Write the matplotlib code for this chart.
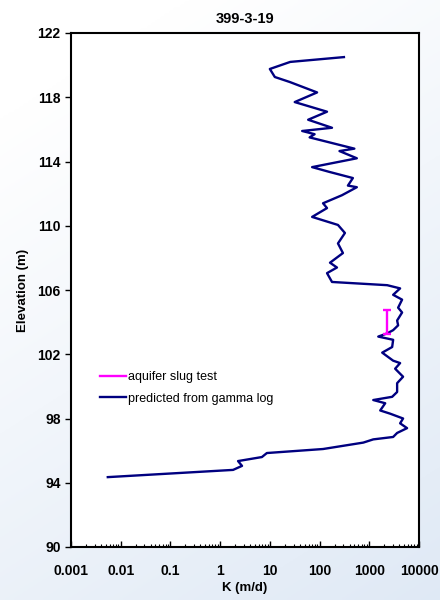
import numpy as np
import matplotlib
matplotlib.use("Agg")
import matplotlib.pyplot as plt
from matplotlib.lines import Line2D

plt.rcParams['font.family'] = ['Liberation Sans', 'DejaVu Sans']

# Predicted K from gamma log (K in m/d, elevation in m)
k_log = [2.49, 1.41, 1.0, 1.1, 1.4, 1.95, 1.5, 2.15, 1.77, 2.25, 1.65, 1.9, 1.8,
         2.7, 2.4, 2.75, 1.85, 2.2, 2.67, 2.57, 2.75, 2.45, 2.07, 2.15, 1.85,
         2.37, 2.51, 2.37, 2.47, 2.21, 2.35, 2.15, 2.25, 3.36, 3.62, 3.48, 3.66,
         3.58, 3.66, 3.56, 3.58, 3.48, 3.36, 3.18, 3.48, 3.46, 3.26, 3.48, 3.62,
         3.52, 3.68, 3.56, 3.56, 3.46, 3.08, 3.32, 3.22, 3.42, 3.68, 3.62, 3.76,
         3.56, 3.48, 3.08, 2.88, 2.07, 0.94, 0.84, 0.36, 0.44, 0.26, -2.26]
elev = [120.5, 120.2, 119.76, 119.26, 118.95, 118.3, 117.7, 117.1, 116.6, 116.1,
        115.9, 115.7, 115.5, 114.8, 114.65, 114.2, 113.65, 113.35, 112.97, 112.5,
        112.4, 111.9, 111.4, 111.1, 110.55, 110.05, 109.55, 108.9, 108.3, 107.7,
        107.4, 107.05, 106.5, 106.3, 106.1, 105.7, 105.4, 104.9, 104.6, 104.1,
        103.8, 103.5, 103.3, 103.1, 102.9, 102.45, 102.1, 101.6, 101.45, 101.1,
        100.6, 100.2, 99.65, 99.35, 99.15, 98.95, 98.5, 98.3, 98.0, 97.7, 97.4,
        97.1, 96.85, 96.7, 96.5, 96.1, 95.85, 95.6, 95.35, 95.05, 94.8, 94.35]
k_pred = [10 ** v for v in k_log]

# Aquifer slug test
slug_k = [2300]
slug_elev = [104.0]
slug_err = [0.75]

x_ticks = [0.001, 0.01, 0.1, 1, 10, 100, 1000, 10000]
x_labels = ['0.001', '0.01', '0.1', '1', '10', '100', '1000', '10000']
y_ticks = np.arange(90, 123, 4)

fig = plt.figure(figsize=(4.4, 6.0), dpi=100)

# light blue gradient background (white top-left -> blue bottom-right)
bg = fig.add_axes([0, 0, 1, 1], zorder=-10)
gx, gy = np.meshgrid(np.linspace(0, 1, 200), np.linspace(0, 1, 200))
g = np.clip(0.35 * gx + 0.75 * gy - 0.15, 0, 1)
top = np.array([1.0, 1.0, 1.0])
bot = np.array([0.87, 0.91, 0.96])
img = top[None, None, :] * (1 - g[..., None]) + bot[None, None, :] * g[..., None]
bg.imshow(img, aspect='auto', extent=[0, 1, 0, 1], origin='upper')
bg.axis('off')

ax = fig.add_axes([71 / 440, 53 / 600, 348 / 440, 514 / 600])
ax.set_facecolor('white')

ax.plot(k_pred, elev, color='#000080', lw=1.7, solid_joinstyle='round')
ax.errorbar(slug_k, slug_elev, yerr=slug_err, fmt='none', ecolor='#ff00ff',
            elinewidth=1.7, capsize=3, capthick=1.7)

ax.set_xscale('log')
ax.set_xlim(0.001, 10000)
ax.set_ylim(90, 122)
ax.set_xticks(x_ticks)
ax.set_xticklabels(x_labels)
ax.set_yticks(y_ticks)
ax.tick_params(axis='x', which='major', direction='in', length=4, width=1,
               labelsize=10, pad=12)
ax.tick_params(axis='x', which='minor', direction='in', length=2, width=0.8)
ax.tick_params(axis='y', direction='out', length=4, width=1, labelsize=10)
for lab in ax.get_xticklabels() + ax.get_yticklabels():
    lab.set_fontweight('bold')

for s in ax.spines.values():
    s.set_linewidth(1.5)
    s.set_color('black')

ax.set_title('399-3-19', fontsize=10.5, fontweight='bold', pad=7)
ax.set_xlabel('K (m/d)', fontsize=9.5, fontweight='bold', labelpad=3)
ax.set_ylabel('Elevation (m)', fontsize=9.5, fontweight='bold', labelpad=6)

handles = [Line2D([], [], color='#ff00ff', lw=1.7),
           Line2D([], [], color='#000080', lw=1.7)]
ax.legend(handles, ['aquifer slug test', 'predicted from gamma log'],
          loc='upper left', bbox_to_anchor=(0.05, 0.364), frameon=False,
          fontsize=9, handlelength=2.1, handletextpad=0.2, labelspacing=0.75)

fig.savefig('out.png', dpi=100)
